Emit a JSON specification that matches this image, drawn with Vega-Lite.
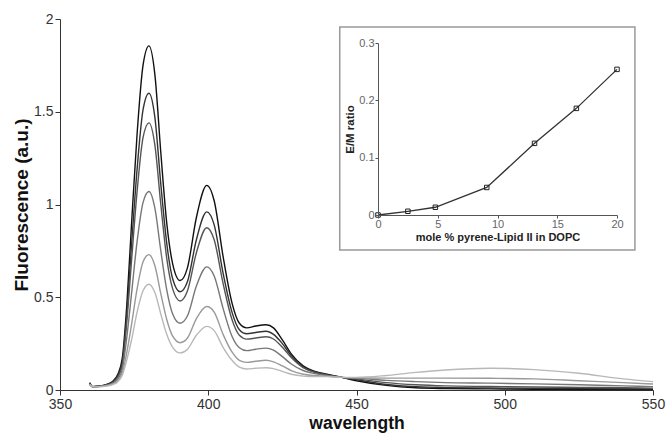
{
  "$schema": "https://vega.github.io/schema/vega-lite/v6.json",
  "width": 593,
  "height": 371,
  "autosize": {"type": "none"},
  "padding": {"left": 60, "top": 19, "right": 14, "bottom": 43},
  "background": "white",
  "config": {
    "view": {"stroke": null},
    "font": "Liberation Sans"
  },
  "datasets": {
    "spectra": [
      {"w":360,"c1":0.04,"c2":0.035,"c3":0.035,"c4":0.03,"c5":0.03,"c6":0.03},
      {"w":361,"c1":0.018,"c2":0.018,"c3":0.018,"c4":0.018,"c5":0.018,"c6":0.018},
      {"w":363,"c1":0.02,"c2":0.02,"c3":0.02,"c4":0.019,"c5":0.018,"c6":0.017},
      {"w":366,"c1":0.032,"c2":0.03,"c3":0.028,"c4":0.026,"c5":0.024,"c6":0.022},
      {"w":368,"c1":0.05,"c2":0.046,"c3":0.042,"c4":0.038,"c5":0.034,"c6":0.03},
      {"w":369.5,"c1":0.085,"c2":0.078,"c3":0.07,"c4":0.06,"c5":0.05,"c6":0.045},
      {"w":371,"c1":0.17,"c2":0.15,"c3":0.13,"c4":0.11,"c5":0.09,"c6":0.08},
      {"w":372.5,"c1":0.45,"c2":0.4,"c3":0.36,"c4":0.28,"c5":0.2,"c6":0.16},
      {"w":374,"c1":0.86,"c2":0.75,"c3":0.67,"c4":0.5,"c5":0.34,"c6":0.26},
      {"w":376,"c1":1.38,"c2":1.19,"c3":1.07,"c4":0.8,"c5":0.545,"c6":0.42},
      {"w":378,"c1":1.75,"c2":1.51,"c3":1.36,"c4":1.01,"c5":0.69,"c6":0.535},
      {"w":380,"c1":1.855,"c2":1.6,"c3":1.44,"c4":1.07,"c5":0.73,"c6":0.57},
      {"w":382,"c1":1.7,"c2":1.47,"c3":1.32,"c4":0.98,"c5":0.67,"c6":0.525},
      {"w":384,"c1":1.28,"c2":1.11,"c3":1.0,"c4":0.75,"c5":0.52,"c6":0.41},
      {"w":386,"c1":0.9,"c2":0.79,"c3":0.71,"c4":0.54,"c5":0.38,"c6":0.3},
      {"w":388,"c1":0.68,"c2":0.6,"c3":0.545,"c4":0.41,"c5":0.29,"c6":0.23},
      {"w":390.5,"c1":0.59,"c2":0.53,"c3":0.48,"c4":0.36,"c5":0.255,"c6":0.2},
      {"w":393,"c1":0.66,"c2":0.585,"c3":0.535,"c4":0.4,"c5":0.28,"c6":0.22},
      {"w":396,"c1":0.93,"c2":0.81,"c3":0.74,"c4":0.56,"c5":0.385,"c6":0.295},
      {"w":399.5,"c1":1.103,"c2":0.96,"c3":0.875,"c4":0.664,"c5":0.45,"c6":0.343},
      {"w":402,"c1":1.02,"c2":0.89,"c3":0.81,"c4":0.615,"c5":0.42,"c6":0.32},
      {"w":405,"c1":0.72,"c2":0.63,"c3":0.575,"c4":0.44,"c5":0.3,"c6":0.23},
      {"w":408,"c1":0.47,"c2":0.42,"c3":0.38,"c4":0.29,"c5":0.205,"c6":0.16},
      {"w":410.5,"c1":0.36,"c2":0.325,"c3":0.295,"c4":0.228,"c5":0.16,"c6":0.123},
      {"w":413,"c1":0.335,"c2":0.303,"c3":0.274,"c4":0.212,"c5":0.149,"c6":0.113},
      {"w":416,"c1":0.345,"c2":0.31,"c3":0.28,"c4":0.22,"c5":0.155,"c6":0.117},
      {"w":419.5,"c1":0.352,"c2":0.317,"c3":0.287,"c4":0.226,"c5":0.16,"c6":0.12},
      {"w":422,"c1":0.335,"c2":0.3,"c3":0.275,"c4":0.215,"c5":0.152,"c6":0.115},
      {"w":425,"c1":0.27,"c2":0.25,"c3":0.23,"c4":0.18,"c5":0.13,"c6":0.1},
      {"w":428,"c1":0.195,"c2":0.185,"c3":0.175,"c4":0.14,"c5":0.105,"c6":0.085},
      {"w":432,"c1":0.13,"c2":0.125,"c3":0.12,"c4":0.105,"c5":0.085,"c6":0.075},
      {"w":436,"c1":0.1,"c2":0.097,"c3":0.094,"c4":0.088,"c5":0.078,"c6":0.072},
      {"w":440,"c1":0.085,"c2":0.083,"c3":0.08,"c4":0.078,"c5":0.075,"c6":0.072},
      {"w":445,"c1":0.068,"c2":0.068,"c3":0.068,"c4":0.068,"c5":0.068,"c6":0.068},
      {"w":450,"c1":0.05,"c2":0.055,"c3":0.06,"c4":0.064,"c5":0.066,"c6":0.068},
      {"w":460,"c1":0.025,"c2":0.03,"c3":0.04,"c4":0.052,"c5":0.064,"c6":0.078},
      {"w":470,"c1":0.012,"c2":0.018,"c3":0.028,"c4":0.045,"c5":0.064,"c6":0.095},
      {"w":480,"c1":0.008,"c2":0.013,"c3":0.022,"c4":0.04,"c5":0.064,"c6":0.108},
      {"w":495,"c1":0.006,"c2":0.011,"c3":0.019,"c4":0.037,"c5":0.063,"c6":0.117},
      {"w":510,"c1":0.004,"c2":0.009,"c3":0.016,"c4":0.033,"c5":0.06,"c6":0.11},
      {"w":525,"c1":0.003,"c2":0.008,"c3":0.014,"c4":0.028,"c5":0.05,"c6":0.09},
      {"w":540,"c1":0.002,"c2":0.007,"c3":0.012,"c4":0.022,"c5":0.04,"c6":0.06},
      {"w":550,"c1":0.002,"c2":0.006,"c3":0.01,"c4":0.018,"c5":0.032,"c6":0.045}
    ],
    "inset": [
      {"m":0,"r":0},
      {"m":2.5,"r":0.0065},
      {"m":4.8,"r":0.0135},
      {"m":9.1,"r":0.048},
      {"m":13.1,"r":0.125},
      {"m":16.6,"r":0.186},
      {"m":20,"r":0.254}
    ],
    "frame": [
      {"m":-3.2,"m2":21.5,"r":-0.061,"r2":0.328}
    ]
  },
  "layer": [
    {
      "data": {"name": "spectra"},
      "transform": [{"fold": ["c1","c2","c3","c4","c5","c6"], "as": ["curve","f"]}],
      "mark": {"type": "line", "interpolate": "monotone", "strokeWidth": 1.4},
      "encoding": {
        "x": {
          "field": "w", "type": "quantitative",
          "scale": {"domain": [350, 550], "nice": false, "zero": false},
          "axis": {
            "values": [350, 400, 450, 500, 550],
            "title": "wavelength",
            "titleFont": "Liberation Sans", "titleFontSize": 17.5, "titleFontWeight": "bold", "titleColor": "#111",
            "titlePadding": 3,
            "labelFont": "Liberation Sans", "labelFontSize": 14, "labelColor": "#333",
            "labelPadding": 2, "tickSize": 5, "tickColor": "#333", "domainColor": "#333",
            "grid": false, "labelFlush": false
          }
        },
        "y": {
          "field": "f", "type": "quantitative",
          "scale": {"domain": [0, 2], "nice": false},
          "axis": {
            "values": [0, 0.5, 1, 1.5, 2],
            "format": "~g",
            "title": "Fluorescence (a.u.)",
            "titleFont": "Liberation Sans", "titleFontSize": 19, "titleFontWeight": "bold", "titleColor": "#111",
            "titlePadding": 2,
            "labelFont": "Liberation Sans", "labelFontSize": 14, "labelColor": "#333",
            "labelPadding": 2, "tickSize": 5, "tickColor": "#333", "domainColor": "#333",
            "grid": false
          }
        },
        "color": {
          "field": "curve", "type": "nominal",
          "scale": {"domain": ["c1","c2","c3","c4","c5","c6"], "range": ["#111111","#333333","#555555","#777777","#999999","#b8b8b8"]},
          "legend": null
        }
      }
    },
    {
      "encoding": {
        "x": {
          "field": "m", "type": "quantitative",
          "scale": {"domain": [0, 20], "range": [318, 557], "nice": false, "zero": false},
          "axis": {
            "orient": "bottom", "offset": -175, "zindex": 2,
            "values": [0, 5, 10, 15, 20],
            "title": "mole % pyrene-Lipid II in DOPC",
            "titleFont": "Liberation Sans", "titleFontSize": 11, "titleFontWeight": "bold", "titleColor": "#222",
            "titlePadding": 2,
            "labelFont": "Liberation Sans", "labelFontSize": 11, "labelColor": "#666",
            "labelPadding": 0, "tickSize": 3, "tickColor": "#555", "domainColor": "#555",
            "grid": false, "labelFlush": false
          }
        },
        "y": {
          "field": "r", "type": "quantitative",
          "scale": {"domain": [0, 0.3], "range": [196, 24], "nice": false},
          "axis": {
            "orient": "left", "offset": -318, "zindex": 2,
            "values": [0, 0.1, 0.2, 0.3],
            "format": "~g",
            "title": "E/M ratio",
            "titleFont": "Liberation Sans", "titleFontSize": 11.5, "titleFontWeight": "bold", "titleColor": "#222",
            "titlePadding": 3,
            "labelFont": "Liberation Sans", "labelFontSize": 11, "labelColor": "#666",
            "labelPadding": 1, "tickSize": 3, "tickColor": "#555", "domainColor": "#555",
            "grid": false
          }
        }
      },
      "layer": [
        {
          "data": {"name": "frame"},
          "mark": {"type": "rect", "fill": "white", "stroke": "#999999", "strokeWidth": 1.5},
          "encoding": {
            "x2": {"field": "m2"},
            "y2": {"field": "r2"}
          }
        },
        {
          "data": {"name": "inset"},
          "mark": {"type": "line", "color": "#333333", "strokeWidth": 1.3},
          "encoding": {}
        },
        {
          "data": {"name": "inset"},
          "mark": {"type": "point", "shape": "square", "filled": false, "size": 20, "stroke": "#222222", "strokeWidth": 1, "opacity": 1},
          "encoding": {}
        }
      ]
    }
  ],
  "resolve": {"scale": {"x": "independent", "y": "independent"}, "axis": {"x": "independent", "y": "independent"}}
}
